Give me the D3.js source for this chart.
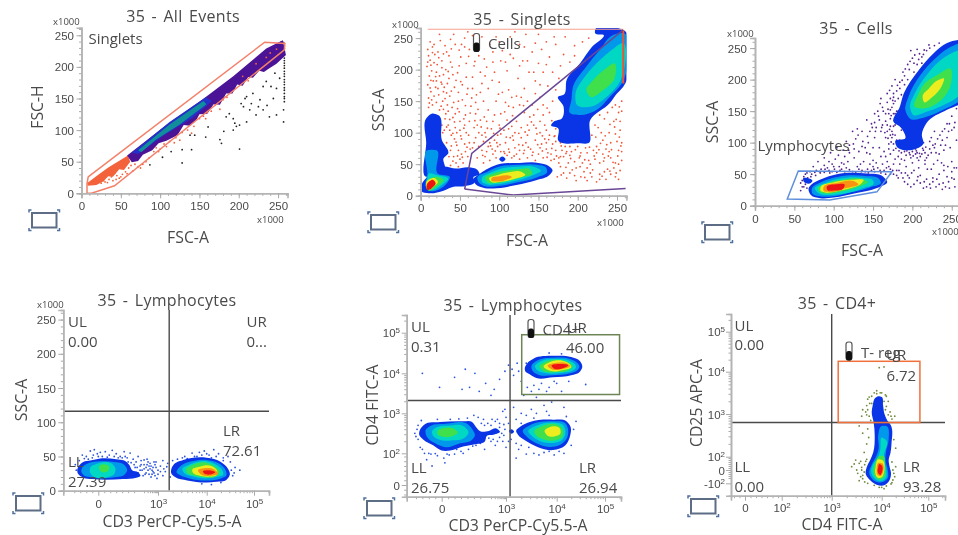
<!DOCTYPE html>
<html>
<head>
<meta charset="utf-8">
<script src="https://cdn.jsdelivr.net/npm/d3@7"></script>
<style>
  html, body { margin: 0; background: #fff; overflow: hidden; }
  svg { display: block; filter: blur(0.5px); font-family: "Open Sans", sans-serif; }
  text { fill: #4a4a4a; }
</style>
</head>
<body>
<div id="chart"></div>
<script>
// axis ticks (log panels are in decades: 3 means 10^3, 0 means 0)
var linearTicks = [0, 50, 100, 150, 200, 250];
var cd3Ticks = [0, 3, 4, 5];
var cd4Ticks = [0, 2, 3, 4, 5];
var cd25Ticks = [-2, 0, 2, 3, 4, 5];

// density levels, blue to red
var densityColors = ["#0a35e6", "#0098ea", "#00d8c4", "#3fe04c", "#ecec1e", "#f89412", "#ee1414"];

// --- panel 1: FSC-A / FSC-H
var singletsGate = [[8.5,26],[233,239],[258.5,237],[258,227],[42,12],[12.7,0],[7,0],[7,15]];
var singletsBands = [
  ["#f4623c", [[7,16],[20,28],[34,41],[46,50],[59,60],[62,50],[54,37],[48,38],[40,26],[34,27],[28,19],[19,13],[8,12]]],
  ["#4b1496", [[58,60],[108,108],[150,145],[193,185],[235,229],[256,242],[260,219],[248,205],[239,198],[232,192],[226,194],[218,183],[212,184],[205,170],[198,172],[192,158],[184,158],[176,140],[168,141],[160,126],[150,125],[146,116],[138,107],[130,108],[122,92],[108,83],[98,79],[90,68],[78,61],[72,51],[64,49]]],
  ["#2430c8", [[64,64],[112,113],[158,152],[166,146],[142,120],[105,92],[72,62]]],
  ["#108e9c", [[72,68],[112,109],[155,146],[159,141],[125,109],[95,85],[76,65]]]
];
var singletsBlack = [[87,45],[103,57],[114,66],[128,69],[128,48],[140,69],[138,92],[144,92],[158,89],[161,105],[176,85],[178,79],[201,70],[184,121],[193,118],[201,108],[210,113],[193,100],[181,98],[197,106],[206,137],[210,153],[218,158],[227,148],[214,132],[222,124],[231,132],[239,121],[248,124],[257,113],[257,132],[231,169],[235,177],[241,169],[248,166],[225,137],[203,142],[208,150],[195,111],[188,126],[216,142],[244,150],[236,139],[252,182],[246,190],
  [258,145],[258,150],[258,153],[258,158],[258,163],[258,167],[258,172],[258,176],[258,180],[258,185],[258,189],[258,193],[258,198],[258,202],[258,206],[258,210],[258,214],[258,219],[258,224],[258,229],[258,233],[258,237],[256,239],[254,239],[252,238]];
var singletsSalmon = [[30,18],[35,22],[40,20],[45,28],[48,24],[52,30],[56,34],[42,32],[38,26],[28,20],[25,16],[60,40],[65,35],[72,42],[78,46],[82,50],[95,72],[100,70],[105,78],[112,82],[120,88],[128,96],[135,100],[150,118],[155,122],[160,128],[165,130],[170,140],[180,148],[185,152],[176,133],[92,66],[118,80],[143,106],[205,185],[222,205],[235,215],[248,228],[240,222],[212,178],[33,17],[44,22],[50,26],[58,31],[63,44],[68,46],[75,40],[86,56],[98,66],[108,74],[125,84],[140,95],[158,118]];

// --- panel 2: FSC-A / SSC-A
var cellsGate = [[56,10.5],[65,67],[258,263]];
var cellsGateLow = [[56,10.5],[118,1],[261,11.6]];
var singletsLimitTop = [[9,264],[258,264]];
var singletsLimitRight = [[258,178],[258,263]];
var singletsDensity = [
  [0, [[222,262],[258,263],[258,173],[250,162],[241,147],[216,120],[213,83],[203,83],[175,88],[175,107],[166,112],[169,117],[180,123],[182,141],[175,157],[182,160],[186,184],[203,210],[218,236],[233,255],[222,258]]],
  [1, [[245,255],[256,258],[256,178],[241,157],[224,136],[203,128],[190,131],[192,152],[194,173],[211,205],[228,231]]],
  [2, [[243,231],[256,242],[255,184],[237,157],[216,141],[199,144],[197,160],[211,192],[228,215]]],
  [3, [[233,199],[247,210],[247,186],[233,168],[216,157],[211,168],[218,181]]],
  [0, [[67,26],[73,33],[84,42],[97,49],[126,52],[150,52],[163,47],[168,40],[164,33],[148,25],[122,17],[97,12],[82,12],[70,18]]],
  [1, [[72,28],[85,38],[97,45],[126,49],[148,49],[160,44],[161,38],[148,29],[122,21],[97,15],[82,15],[74,21]]],
  [2, [[78,28],[88,36],[100,42],[124,46],[146,45],[153,40],[140,31],[118,23],[97,18],[84,18],[78,22]]],
  [3, [[82,28],[92,35],[105,39],[124,42],[140,41],[142,36],[128,29],[110,23],[95,20],[85,21]]],
  [4, [[87,27],[98,33],[112,37],[128,38],[133,34],[118,26],[102,22],[90,22]]],
  [5, [[90,27],[100,31],[112,32],[116,30],[108,25],[96,22.5],[90,24]]],
  [0, [[8.5,125],[14,130],[22,128],[27,88],[35,67],[29,59],[31,44],[7,30],[7,83]]],
  [0, [[28,46],[45,43],[61,45],[72,41],[75,34],[67,29],[69,22],[56,15],[42,14],[29,8],[10,4],[1,7],[2,20],[7,28]]],
  [0, [[100,58],[104,62],[108,58],[104,54]]],
  [1, [[8.5,72],[20,72],[22,35],[37,30],[29,14],[12,8],[7,14],[8.5,35]]],
  [2, [[10,35],[20,33],[35,27],[27,17],[12,9],[7,14],[8.5,27]]],
  [3, [[8,22],[20,30],[29,25],[20,14],[10,8],[7,12]]],
  [4, [[7,21],[18,27.5],[22,22],[16,14],[10,9]]],
  [6, [[8,18],[16,25],[19,20],[14,12],[8.5,9]]]
];
var singletsDots = [[9,232],[12,215],[8,205],[14,198],[11,190],[18,224],[21,208],[16,182],[9,176],[13,165],[19,172],[24,190],[27,214],[31,238],[25,246],[36,222],[40,204],[34,178],[29,165],[37,158],[43,172],[47,195],[51,220],[44,240],[56,250],[62,232],[58,210],[66,188],[60,170],[53,152],[47,138],[41,124],[35,112],[30,104],[44,108],[39,96],[50,118],[57,128],[64,142],[71,160],[78,178],[84,204],[74,222],[88,240],[96,252],[104,230],[92,212],[110,198],[100,180],[118,218],[126,240],[134,256],[142,228],[150,210],[138,196],[124,186],[112,168],[96,150],[86,136],[76,120],[68,108],[58,100],[52,90],[46,80],[38,72],[33,84],[42,62],[50,58],[57,70],[62,84],[70,92],[82,100],[92,118],[102,130],[112,142],[122,158],[132,170],[146,182],[156,196],[164,220],[172,240],[184,252],[196,238],[162,174],[168,150],[152,156],[142,144],[132,132],[122,118],[112,106],[102,98],[94,88],[86,78],[78,72],[72,60],[82,62],[92,66],[102,70],[112,74],[122,66],[132,72],[142,64],[152,76],[162,68],[172,72],[182,62],[192,70],[202,60],[212,68],[222,58],[232,66],[242,60],[252,72],[248,52],[238,42],[228,34],[218,30],[208,38],[198,44],[188,52],[178,46],[174,30],[186,28],[198,24],[212,24],[224,22],[236,26],[248,30],[254,40],[256,56],[250,86],[254,104],[246,118],[240,100],[232,88],[224,78],[218,96],[226,108],[234,122],[252,132],[256,150],[244,140],[168,82],[158,90],[148,98],[138,104],[128,92],[118,88],[108,84],[98,78],[90,92],[80,86],[74,100],[66,76],[60,62],[54,52],[48,46],[38,48],[152,118],[144,128],[136,112],[160,104],[156,128],[170,94],[180,72],[190,78],[200,78],[210,76],[176,60],[166,56],[156,60],[146,56],[136,60],[126,58],[116,60],[106,70],[96,60],[88,56],[80,52],[150,66],[130,80],[120,100],[110,120],[100,112],[90,106],[84,118],[70,130],[62,118],[56,112],[46,100],[28,100],[32,130],[24,136],[20,148],[14,152],[10,140],[28,150],[18,120],[34,144],[42,148],[48,164],[26,180],[20,196],[32,200],[12,244],[24,256],[42,256],[60,260],[78,252],[114,252],[130,214],[146,242],[108,212],[86,170],[80,150],[118,140],[128,156],[104,164],[154,232],[178,206],[168,196],[190,212],[214,250],[72,244],
  [10,222],[15,236],[20,182],[12,171],[23,160],[30,172],[17,158],[26,142],[35,134],[40,140],[31,122],[27,112],[37,104],[43,90],[48,72],[41,55],[36,62],[45,52],[52,66],[56,82],[61,96],[50,104],[55,122],[44,130],[48,150],[39,166],[22,228],[29,192],[36,186],[41,192],[53,176],[58,188],[49,206],[38,212],[33,228],[17,240],[10,155],[15,144],[22,170],[31,154],[63,74],[68,84],[74,78],[79,64],[84,70],[91,74],[97,84],[103,60],[110,64],[114,92],[120,76],[126,72],[134,84],[140,74],[146,88],[154,82],[160,74],[166,66],[172,86],[178,62],[184,78],[190,64],[196,54],[204,68],[214,56],[220,72],[228,52],[234,60],[240,70],[246,44],[252,50],[256,70],[256,84],[248,98],[242,84],[236,74],[230,100],[222,112],[228,128],[238,132],[248,144],[254,118],[256,134],[224,68],[216,50],[206,52],[196,32],[190,36],[182,36],[176,52],[204,30],[216,36],[228,26],[242,34],[252,26],[212,44],[234,38],[170,58],[160,84],[152,100],[144,112],[136,96],[128,108],[116,110],[106,104],[98,96],[88,84],[78,96],[72,112],[94,128],[108,148],[116,156],[126,144],[136,150],[146,162],[156,144],[164,132],[158,112],[172,106],[164,96],[178,84],[186,70],[204,88],[212,86],[70,148],[76,164],[66,170],[82,190],[94,196],[102,214],[114,224],[126,206],[136,214],[144,196],[152,176],[172,168],[176,186],[160,208],[182,224],[170,252],[150,256],[120,260],[92,228],[68,206],[76,196],[56,236],[38,248],[52,240],[66,254],[100,244],[132,236],[160,244],[196,222],[206,244],
  [11,147],[13,183],[17,211],[23,219],[27,177],[33,163],[29,137],[37,121],[33,109],[41,99],[45,85],[39,79],[47,63],[53,61],[59,77],[51,95],[55,107],[43,117],[49,133],[57,143],[63,131],[69,119],[77,109],[83,93],[89,79],[95,71],[101,81],[107,67],[113,69],[119,63],[125,81],[131,67],[137,77],[143,69],[149,81],[155,71],[161,61],[167,75],[173,63],[179,79],[185,67],[191,59],[197,73],[203,63],[209,57],[215,77],[221,63],[227,73],[233,55],[239,63],[245,53],[251,63],[255,79],[253,93],[247,109],[241,113],[235,95],[229,83],[223,93],[237,81],[243,73],[249,121],[253,141],[203,46],[209,29],[219,41],[231,31],[241,39],[249,36],[193,41],[185,45],[179,33],[171,95],[163,89],[155,95],[147,107],[141,117],[133,101],[125,99],[117,95],[109,93],[101,107],[93,99],[85,107],[81,125],[73,137],[65,155],[59,161],[51,181],[45,183],[35,197],[27,203],[19,189],[13,207],[9,212],[15,227],[29,225],[39,233],[49,231],[61,221],[69,213],[81,217],[91,183],[99,161],[107,133],[117,127],[131,143],[139,125],[149,137],[161,139],[167,119],[173,113]];

// --- panel 3: cells
var lymphGate = [[55,55],[174,54],[155,22],[95,9],[41,10.6]];
var cellsDensity = [
  [0, [[244,258],[262,263],[262,162],[244,152],[218,131],[212,112],[214,99],[197,88],[180,94],[178,102],[191,107],[186,123],[176,133],[184,157],[189,178],[208,215],[227,242]]],
  [1, [[246,250],[262,258],[262,168],[239,152],[218,141],[197,138],[191,152],[195,173],[210,207],[227,231]]],
  [2, [[239,234],[262,247],[262,178],[235,157],[218,149],[201,144],[197,157],[203,178],[218,207]]],
  [3, [[231,207],[248,218],[248,189],[231,162],[214,154],[203,157],[208,178],[218,197]]],
  [4, [[231,198],[240,202],[237,189],[225,172],[215,164],[213,174],[221,186]]],
  [0, [[68,27],[72,34],[84,42],[104,50],[142,51],[163,46],[168,38],[155,28],[129,20],[100,13],[83,12],[71,17]]],
  [0, [[61,43],[73,39],[71,36],[62,38]]],
  [1, [[72,26],[85,38],[106,46],[140,47],[158,42],[160,37],[146,29],[125,22],[100,15],[82,15],[73,19]]],
  [2, [[76,27],[89,36],[108,43],[138,44],[150,40],[151,36],[138,28],[117,20],[95,17],[82,19]]],
  [3, [[80,27],[91,35],[112,41],[136,42],[143,38],[129,29],[108,22],[91,19],[82,22]]],
  [4, [[83,28],[100,37],[123,41],[138,40],[134,34],[122,28],[104,23],[89,21],[83,24]]],
  [5, [[87,29],[104,36],[125,39],[131,35],[112,27],[95,21.5],[87,24]]],
  [6, [[91,29],[104,34],[114,33],[112,27],[100,24],[92,25]]]
];
var cellsDots = [[60,30],[58,24],[62,46],[66,52],[72,50],[78,56],[84,58],[92,60],[100,62],[108,56],[116,60],[124,54],[132,58],[140,54],[148,56],[156,60],[164,56],[170,62],[176,50],[182,44],[190,38],[198,30],[206,40],[214,28],[222,34],[230,30],[238,26],[246,38],[254,30],[186,52],[194,48],[202,56],[210,48],[218,42],[226,44],[234,50],[244,46],[250,54],[168,70],[160,78],[150,72],[142,84],[134,66],[126,76],[118,70],[110,68],[102,74],[94,70],[88,64],[112,88],[120,96],[128,106],[136,94],[144,100],[152,108],[158,92],[164,86],[172,82],[178,74],[184,66],[192,62],[200,68],[208,60],[216,66],[224,58],[232,72],[240,64],[250,70],[256,60],[186,84],[192,80],[198,76],[204,82],[210,78],[216,84],[222,90],[176,88],[182,94],[170,98],[166,108],[160,118],[154,124],[148,130],[142,136],[136,118],[168,128],[174,118],[172,138],[166,146],[162,156],[172,152],[168,164],[176,172],[180,182],[174,190],[184,196],[190,206],[196,216],[202,226],[208,232],[214,240],[222,250],[228,254],[234,258],[190,192],[182,170],[176,146],[178,128],[174,108],[170,90],[190,86],[196,84],[206,84],[214,88],[220,80],[226,96],[232,106],[238,118],[244,130],[250,142],[256,154],[236,96],[244,108],[250,120],[254,132],[228,118],[224,108],[230,84],[240,88],[248,92],[256,104],[194,92],[184,104],[178,112],[172,126],[182,138],[176,162],[168,178],[160,170],[152,146],[146,118],[130,122],[124,118],[116,102],[104,92],[96,84],[88,76],[80,70],[74,62],[198,246],[206,248],[212,226],[202,212],[194,200],[186,176],[180,150],[128,44],[150,62],[162,66],[196,44],[240,56],[208,72],[214,100],[222,102],[172,58],[176,66],[180,56],[62,30],[64,34],[66,28],
  [58,36],[60,40],[64,50],[70,54],[76,53],[82,54],[88,53],[94,56],[98,54],[104,53],[110,58],[114,54],[120,57],[128,52],[136,56],[144,52],[152,54],[160,52],[166,50],[172,50],[180,48],[188,44],[194,34],[202,34],[210,36],[218,30],[226,38],[234,34],[242,30],[250,44],[182,78],[186,74],[190,72],[196,90],[200,86],[204,90],[208,94],[212,82],[218,76],[224,84],[228,92],[234,82],[238,104],[242,96],[246,118],[176,98],[180,104],[172,112],[168,118],[176,126],[170,146],[174,156],[178,166],[166,134],[162,128],[158,136],[152,132],[156,150],[150,92],[146,82],[140,92],[132,86],[126,90],[120,84],[114,78],[106,80],[98,66],[130,62],[138,70],[146,66],[154,68],[166,78],[184,186],[178,200],[188,212],[194,224],[200,234],[206,224],[212,236],[218,246],[182,150],[186,120],[196,100],[206,76],[216,72],[178,146],[176,178],[172,170],
  [179,91],[183,87],[187,93],[193,87],[197,81],[201,79],[205,87],[209,83],[213,91],[217,93],[173,101],[169,107],[175,113],[171,121],[177,135],[173,143],[169,153],[175,167],[171,183],[181,191],[187,199],[191,217],[197,229],[203,239],[209,241],[215,247],[221,255],[165,116],[161,124],[157,142],[163,150],[159,162],[153,118],[149,124],[143,110],[137,102],[131,112],[125,98],[119,88],[113,66],[107,62],[101,58],[95,52],[89,58],[83,52],[77,48],[71,46],[67,44],[135,54],[143,58],[151,58],[159,56],[167,60],[175,56],[183,56],[191,52],[199,52],[207,46],[215,38],[223,28],[231,42],[239,36],[247,28],[253,42],[219,58],[227,66],[237,68],[245,62],[253,60],[229,98],[235,112],[241,122],[247,130],[253,124]];

// --- panel 4: CD3 / SSC
var lymphSscQuad = { x: 3.23, y: 116 };
var lymphSscDensity = [
  [0, [[-0.98,36],[-0.75,42],[-0.4,44],[0.1,47],[0.9,46],[1.3,44],[1.55,38],[1.7,30],[2.0,27],[2.12,22],[1.9,19],[1.25,17],[-0.3,17],[-0.75,19],[-1.02,25],[-1.05,31]]],
  [1, [[-0.8,34],[-0.5,40],[0.1,43],[0.8,42],[1.3,38],[1.45,30],[1.3,23],[0.9,20],[-0.3,20],[-0.7,22],[-0.85,28]]],
  [2, [[-0.4,34],[-0.1,39],[0.3,42],[0.65,40],[0.85,33],[0.8,24],[0.5,20],[0.1,18],[-0.2,20],[-0.4,26]]],
  [3, [[0.05,36],[0.3,38.5],[0.55,35],[0.5,29],[0.2,27],[0.05,31]]],
  [0, [[3.28,33],[3.35,40],[3.52,45],[4,48],[4.3,42],[4.45,32],[4.49,24],[4.42,16],[4.2,13],[4,12],[3.6,15],[3.35,20],[3.27,26]]],
  [1, [[3.4,31],[3.5,38],[3.7,43],[4,45],[4.25,40],[4.4,30],[4.42,23],[4.3,18],[4,15],[3.65,18],[3.45,23],[3.38,27]]],
  [2, [[3.5,32],[3.6,37],[3.75,41],[4,43],[4.2,38],[4.33,30],[4.35,24],[4.2,20],[3.95,18],[3.7,21],[3.55,25]]],
  [3, [[3.58,31],[3.72,38],[4,41],[4.18,35],[4.28,27],[4.2,21],[3.9,20],[3.7,23],[3.6,26]]],
  [4, [[3.7,30],[3.85,35],[4.1,36],[4.22,29],[4.22,24],[4.03,20.5],[3.82,22.5],[3.72,26]]],
  [5, [[3.82,29],[4,33],[4.16,31],[4.24,25],[4.05,21.5],[3.88,24]]],
  [6, [[3.92,28],[4.05,30],[4.18,27],[4.07,23.5],[3.95,25]]]
];
var lymphSscDots = [[-0.95,44],[-0.8,52],[-0.6,50],[-0.4,58],[-0.2,60],[-0.05,54],[0.2,50],[0.35,57],[0.55,52],[0.7,59],[0.9,54],[1.1,50],[1.3,57],[1.45,48],[1.6,55],[1.75,46],[1.9,42],[2.0,50],[2.15,44],[2.3,38],[2.45,46],[2.6,40],[2.75,34],[2.9,42],[3.05,36],[3.15,28],[2.2,30],[2.35,24],[2.5,30],[2.65,20],[2.8,26],[2.95,18],[3.1,22],[3.2,40],[2.1,36],[2.4,34],[2.7,30],[2.85,38],[3.0,30],[2.55,36],[2.25,22],[1.85,34],[2.0,26],[-1.1,30],[-1.15,38],[1.2,48],[0.1,56],[-0.3,48],[3.4,46],[3.55,50],[3.7,55],[3.8,50],[3.95,58],[4.05,52],[4.15,60],[4.25,54],[4.35,48],[4.5,42],[4.6,34],[4.7,30],[4.55,22],[3.85,56],[3.6,47],[4.1,48],[3.25,20],[3.3,44],[4.45,50],[3.9,10],[4.1,9],[4.3,12],
  [-0.7,47],[-0.5,46],[-0.25,52],[0,50],[0.45,49],[0.8,50],[1.0,48],[1.35,50],[1.5,42],[1.65,41],[1.8,38],[1.95,34],[2.1,30],[2.3,32],[2.45,38],[2.6,32],[2.75,28],[2.9,34],[3.05,28],[2.4,26],[2.55,24],[2.7,24],[2.85,22],[3.0,24],[3.12,32],[3.18,35],[2.15,38],[2.3,45],[2.5,42],[2.65,36],[2.8,42],[3.1,44],[3.5,48],[3.75,50],[3.9,52],[4.0,54],[4.2,50],[4.35,44],[4.52,30],[4.58,26]];

// --- panel 5: CD3 / CD4
var lymphCd4Quad = { x: 3.08, y: 3.32 };
var cd4Gate = { x0: 3.31, x1: 5.3, y0: 3.47, y1: 4.95 };
var lymphCd4Density = [
  [0, [[3.37,4.12],[3.42,4.25],[3.54,4.36],[3.93,4.43],[4.3,4.4],[4.48,4.3],[4.53,4.17],[4.48,4.04],[4.3,3.95],[3.93,3.9],[3.6,3.88],[3.46,3.98],[3.38,4.05]]],
  [1, [[3.5,4.17],[3.6,4.3],[3.93,4.38],[4.28,4.35],[4.42,4.26],[4.47,4.17],[4.42,4.07],[4.28,4],[3.93,3.95],[3.65,3.96],[3.53,4.05]]],
  [2, [[3.57,4.17],[3.68,4.29],[3.97,4.35],[4.26,4.31],[4.38,4.22],[4.4,4.15],[4.32,4.06],[4.1,4.01],[3.8,4],[3.63,4.06]]],
  [3, [[3.66,4.17],[3.77,4.28],[4.05,4.33],[4.24,4.27],[4.33,4.18],[4.25,4.08],[3.98,4.03],[3.75,4.05]]],
  [4, [[3.74,4.17],[3.87,4.28],[4.12,4.31],[4.27,4.22],[4.3,4.16],[4.14,4.08],[3.87,4.06]]],
  [5, [[3.82,4.18],[4,4.26],[4.2,4.25],[4.28,4.18],[4.14,4.11],[3.9,4.1]]],
  [6, [[3.9,4.18],[4.07,4.23],[4.24,4.2],[4.14,4.13],[3.93,4.13]]],
  [0, [[-1,2.6],[-0.8,2.72],[-0.08,2.78],[1,2.8],[1.4,2.79],[1.6,2.66],[1.8,2.55],[2.2,2.56],[2.55,2.62],[2.72,2.54],[2.45,2.47],[2.1,2.43],[2.02,2.3],[1.5,2.22],[1,2.17],[0.4,2.07],[0,2.07],[-0.4,2.2],[-0.85,2.34],[-1.05,2.47]]],
  [1, [[-0.75,2.58],[-0.5,2.69],[0.1,2.73],[1.2,2.73],[1.45,2.58],[1.55,2.45],[1.4,2.33],[0.8,2.24],[0.2,2.15],[-0.3,2.25],[-0.7,2.42]]],
  [2, [[-0.45,2.55],[-0.2,2.66],[0.3,2.69],[1,2.68],[1.25,2.52],[1.05,2.38],[0.45,2.32],[-0.1,2.34],[-0.42,2.45]]],
  [3, [[-0.2,2.55],[0.1,2.63],[0.5,2.63],[0.75,2.52],[0.45,2.42],[0,2.42],[-0.2,2.48]]],
  [0, [[3.2,2.55],[3.3,2.68],[3.47,2.78],[3.93,2.84],[4.2,2.8],[4.29,2.65],[4.28,2.45],[4.18,2.2],[3.93,2.08],[3.62,2.16],[3.38,2.32],[3.24,2.46]]],
  [1, [[3.33,2.55],[3.5,2.72],[3.93,2.8],[4.18,2.75],[4.24,2.55],[4.2,2.35],[4.05,2.2],[3.85,2.16],[3.6,2.25],[3.42,2.4]]],
  [2, [[3.44,2.55],[3.62,2.7],[3.93,2.77],[4.14,2.7],[4.18,2.5],[4.1,2.32],[3.92,2.26],[3.72,2.28],[3.54,2.4]]],
  [3, [[3.56,2.54],[3.72,2.68],[3.97,2.73],[4.12,2.62],[4.12,2.42],[3.95,2.32],[3.72,2.36],[3.6,2.44]]],
  [4, [[3.76,2.55],[3.9,2.67],[4.06,2.63],[4.08,2.5],[3.95,2.42],[3.82,2.44]]],
  [0, [[3.06,2.56],[3.11,2.6],[3.16,2.54],[3.11,2.49]]]
];
var lymphCd4Dots = [[-0.9,4.0],[-0.1,3.65],[0.6,3.9],[0.95,3.6],[1.1,4.1],[1.3,3.65],[1.55,4.0],[1.75,3.55],[2.05,3.75],[2.3,3.45],[2.45,3.6],[2.7,3.85],[2.95,4.05],[3.05,4.2],[3.15,3.95],[3.22,4.25],[3.3,3.8],[3.42,3.65],[3.55,3.7],[3.7,3.75],[3.85,3.65],[4.1,3.55],[4.25,3.8],[4.6,3.72],[4.1,4.48],[3.85,4.5],[3.6,3.4],[3.9,3.28],[4.15,3.15],[3.75,3.2],[3.5,3.1],[3.3,3.0],[3.2,2.85],[3.0,2.9],[2.85,3.05],[2.7,2.75],[2.5,2.8],[2.3,2.7],[2.15,2.75],[1.95,2.85],[1.7,2.9],[1.5,2.95],[1.2,2.88],[0.8,2.86],[-0.2,2.85],[-1.1,2.7],[-1.25,2.5],[-1.1,2.35],[-1.0,2.15],[-0.8,2.0],[-0.5,1.95],[-0.2,1.85],[0.1,1.7],[0.35,1.9],[0.6,1.95],[0.9,2.05],[1.25,2.1],[1.6,2.2],[2.0,2.1],[2.3,2.3],[2.5,2.2],[2.7,2.4],[2.85,2.3],[3.0,2.15],[3.1,2.35],[3.3,2.2],[3.45,2.15],[3.55,2.0],[3.75,2.02],[3.95,1.9],[4.15,2.0],[4.3,2.2],[4.35,2.6],[4.4,2.8],[4.2,2.92],[3.85,2.95],[3.55,2.88],[3.3,2.75],[-0.7,1.6],[-0.45,1.2],[0.15,1.4],[-0.6,2.0],[3.2,1.7],[3.35,2.5],[2.95,2.6],[2.8,2.5],[0.4,2.85],[1.0,2.0],
  [-1.15,2.6],[-0.95,2.82],[-1.2,2.42],[-0.9,2.1],[-0.3,1.98],[0.25,1.95],[0.7,2.1],[1.45,2.18],[1.8,2.25],[2.2,2.38],[2.4,2.35],[2.6,2.3],[2.9,2.45],[3.05,2.3],[3.2,2.25],[3.25,2.1],[3.4,1.95],[3.65,1.9],[3.85,2.05],[4.05,2.05],[2.9,2.72],[2.7,2.65],[2.6,2.85],[2.35,2.85],[2.0,2.7],[1.85,2.75],[3.05,2.75],[2.95,3.1],[3.15,3.15],[3.4,2.95],[3.6,3.0],[3.8,3.05],[3.35,3.45],[3.5,3.55],[3.65,3.6],[3.8,3.55],[3.95,3.8],[4.0,3.75],[3.4,4.25],[3.25,4.05],[3.12,4.1]];

// --- panel 6: CD4 / CD25
var cd4Cd25Quad = { x: 3, y: 2.8 };
var tregGate = { x0: 3.13, x1: 4.82, y0: 2.8, y1: 4.26 };
var cd4Cd25Density = [
  [0, [[3.87,3.38],[3.93,3.42],[4,3.4],[4.03,3.2],[4.06,3],[4.12,2.85],[4.19,2.75],[4.21,2.3],[4.19,2.1],[4.15,1.5],[4.17,0.5],[4.2,-0.5],[4.17,-1.5],[4.05,-2.3],[3.9,-2.2],[3.78,-1.6],[3.68,-0.6],[3.7,0.4],[3.77,1.5],[3.83,2.1],[3.86,2.5],[3.84,2.8],[3.8,3.05],[3.82,3.2]]],
  [1, [[4,2.72],[4.1,2.72],[4.15,2.4],[4.09,2.1],[4.08,1.5],[4.13,0],[4.13,-1.2],[4,-1.85],[3.85,-1.6],[3.75,-0.5],[3.8,0.8],[3.88,1.9],[3.94,2.2],[3.93,2.5]]],
  [2, [[4.01,2.45],[4.1,2.38],[4.05,2.05],[4.04,1.6],[4.1,0],[4.09,-1.2],[3.97,-1.7],[3.85,-1.2],[3.79,-0.3],[3.83,0.9],[3.92,1.8],[3.97,2.15]]],
  [3, [[3.93,2],[4.03,2.02],[4.07,0.5],[4.06,-1],[3.95,-1.45],[3.85,-0.7],[3.84,0.4],[3.88,1.2]]],
  [4, [[3.93,1.6],[4.01,1.5],[4.05,-0.3],[4,-1.1],[3.92,-1.15],[3.87,-0.4],[3.88,0.5]]],
  [5, [[3.94,1.1],[4.01,1],[4.03,-0.3],[3.98,-0.9],[3.92,-0.8],[3.9,0]]],
  [6, [[3.95,0.9],[4,0.7],[4.01,-0.25],[3.97,-0.75],[3.92,-0.3],[3.93,0.4]]]
];
var cd4Cd25Dots = [[3.95,4.1],[4.05,4.12],[3.8,3.42],[3.9,3.48],[4.0,3.5],[4.1,3.42],[3.72,3.35],[4.14,3.3],[3.7,3.2],[4.1,3.18],[3.62,3.1],[4.18,3.05],[3.6,2.95],[4.28,2.95],[3.7,2.98],[4.22,2.88],[3.55,2.72],[3.62,2.55],[3.7,2.3],[3.65,2.1],[3.48,1.5],[3.55,1.0],[3.4,0.5],[3.5,0],[3.6,0.4],[3.65,-0.3],[3.58,-1],[3.55,-1.6],[3.72,-2.0],[3.7,1.6],[4.3,0.5],[4.26,-0.5],[4.24,-1.5],[4.1,-2.4],[4.2,-2.1],[3.85,-2.3],[3.95,-2.6],[4.05,-2.8],[4.22,1.2],[4.26,2.4],[3.66,0.8],[3.62,-0.8],[3.8,3.25],[4.05,3.3],[3.9,3.55],[3.78,2.85],[4.3,2.2],[3.68,1.3],
  [3.75,3.4],[3.76,3.25],[3.72,3.1],[3.75,2.95],[4.08,3.1],[4.14,2.98],[4.2,2.95],[3.68,3.05],[3.85,3.5],[3.97,3.5],[4.08,3.45],[3.72,2.65],[3.74,2.45],[3.6,0],[3.52,-0.5],[3.45,0.9],[3.58,1.3],[3.62,-1.3],[3.66,-1.8],[4.24,0],[4.28,-1],[4.22,-1.9],[4.0,-2.6]];

var panels = [
  { title: "35 - All Events", tx: 183, ty: 22, xLabel: "FSC-A", xlx: 188, xly: 243, yLabel: "FSC-H", ylx: 43, yly: 107,
    x: [[0,262],[81.5,287.5]], y: [[0,262],[193.3,27.7]],
    tickY: 210, tickR: 74, bottomK: [257,223], topK: [53,25], icon: [32,213] },
  { title: "35 - Singlets", tx: 522, ty: 25, xLabel: "FSC-A", xlx: 527, xly: 246, yLabel: "SSC-A", ylx: 384, yly: 110,
    x: [[0,262],[420.7,626.4]], y: [[0,266],[195.7,28]],
    tickY: 212, tickR: 413, bottomK: [597,226], topK: [392,28], icon: [371,215] },
  { title: "35 - Cells", tx: 856, ty: 34, xLabel: "FSC-A", xlx: 862, xly: 256, yLabel: "SSC-A", ylx: 718, yly: 122,
    x: [[0,262],[755,961.2]], y: [[0,266],[205.7,38]],
    tickY: 223, tickR: 747, bottomK: [932,235], topK: [727,37], icon: [705,225] },
  { title: "35 - Lymphocytes", tx: 167, ty: 306, xLabel: "CD3 PerCP-Cy5.5-A", xlx: 172, xly: 527, yLabel: "SSC-A", ylx: 27, yly: 400,
    x: [[-1.75,0,3,4,5,5.31],[63.3,98.3,158,206.7,254,269]], y: [[0,264],[490.7,310]],
    tickY: 508, tickR: 56, topK: [37,308], icon: [16,496], xTicks: cd3Ticks },
  { title: "35 - Lymphocytes", tx: 513, ty: 311, xLabel: "CD3 PerCP-Cy5.5-A", xlx: 518, xly: 531, yLabel: "CD4 FITC-A", ylx: 378, yly: 405,
    x: [[-1.63,0,3,4,5,5.33],[406.7,441.7,506,556.7,605,621]], y: [[-0.74,0,2,3,4,5,5.44],[496.7,485,453.3,413.3,373.3,332.7,315]],
    tickY: 513, tickR: 400, icon: [367,501], xTicks: cd3Ticks, yTicks: cd4Ticks },
  { title: "35 - CD4+", tx: 837, ty: 309, xLabel: "CD4 FITC-A", xlx: 842, xly: 530, yLabel: "CD25 APC-A", ylx: 702, yly: 403,
    x: [[-0.76,0,2,3,4,5,5.36],[731,745,781.7,831.7,881.7,928.3,945]], y: [[-3.85,-2,0,2,3,4,5,5.45],[495.7,483.3,470,456.7,414,371.7,331.7,314]],
    tickY: 512, tickR: 725, icon: [691,499], xTicks: cd4Ticks, yTicks: cd25Ticks }
];

var svg = d3.select("#chart").append("svg").attr("width", 958).attr("height", 535);

// builds scales and clip of one panel
function drawFrame(p, i) {
  p.sx = d3.scaleLinear().domain(p.x[0]).range(p.x[1]);
  p.sy = d3.scaleLinear().domain(p.y[0]).range(p.y[1]);
  p.g = svg.append("g");
  var clipId = "clip" + i;
  svg.append("clipPath").attr("id", clipId).append("rect")
    .attr("x", p.x[1][0]).attr("y", d3.min(p.y[1]))
    .attr("width", p.x[1][p.x[1].length - 1] - p.x[1][0])
    .attr("height", d3.max(p.y[1]) - d3.min(p.y[1]));
  p.plot = p.g.append("g").attr("clip-path", "url(#" + clipId + ")");
}

function decadeLabel(sel, d) {
  sel.text("");
  if (d === 0) { sel.text("0"); return; }
  sel.append("tspan").text(d < 0 ? "-10" : "10");
  sel.append("tspan").attr("dy", -4).style("font-size", "8px").text(Math.abs(d));
}

function minorDecades(scale) {
  var out = [];
  var dom = scale.domain();
  for (var d = 2; d < 6; d++) {
    [2, 3, 4, 5, 6, 7, 8, 9].forEach(function(k) {
      var v = d + Math.log10(k);
      if (v < dom[dom.length - 1]) out.push(v);
    });
  }
  [-1.2, -0.9, -0.6, -0.3, 0.3, 0.6, 0.9, 1.2, 1.5, 1.8].forEach(function(v) { if (v > dom[0]) out.push(v); });
  return out;
}

function drawAxes(p) {
  var axisY = p.y[1][0];
  var axisX = p.x[1][0];
  var xMajor = p.xTicks || linearTicks;
  var yMajor = p.yTicks || linearTicks;
  var xMinor = p.xTicks ? minorDecades(p.sx) : d3.range(0, 261, 10);
  var yMinor = p.yTicks ? minorDecades(p.sy) : d3.range(0, 261, 10);

  var gx = p.g.append("g").attr("transform", "translate(0," + axisY + ")");
  gx.append("g").call(d3.axisBottom(p.sx).tickValues(xMinor).tickSize(2.5).tickFormat(""));
  gx.append("g").attr("class", "major").call(d3.axisBottom(p.sx).tickValues(xMajor).tickSize(5));

  var gy = p.g.append("g").attr("transform", "translate(" + axisX + ",0)");
  gy.append("g").call(d3.axisLeft(p.sy).tickValues(yMinor).tickSize(2.5).tickFormat(""));
  gy.append("g").attr("class", "major").call(d3.axisLeft(p.sy).tickValues(yMajor).tickSize(5));

  p.g.selectAll(".domain").attr("stroke", "#b4b4b4").attr("stroke-width", 1.6);
  p.g.selectAll(".tick line").attr("stroke", "#aaa");

  gx.select(".major").selectAll("text")
    .attr("y", 0).attr("dy", 0)
    .attr("transform", "translate(0," + (p.tickY - axisY) + ")")
    .style("font-size", "11.5px").style("font-family", "inherit")
    .each(function(d) { if (p.xTicks) decadeLabel(d3.select(this), d); });
  gy.select(".major").selectAll("text")
    .attr("x", 0).attr("dy", "0.35em")
    .attr("transform", "translate(" + (p.tickR - axisX) + ",0)")
    .style("font-size", "11.5px").style("font-family", "inherit")
    .each(function(d) { if (p.yTicks) decadeLabel(d3.select(this), d); });

  p.g.append("text").attr("x", p.tx).attr("y", p.ty).attr("text-anchor", "middle")
    .style("font-size", "16px").style("letter-spacing", "0.3px").style("word-spacing", "2px").text(p.title);
  p.g.append("text").attr("x", p.xlx).attr("y", p.xly).attr("text-anchor", "middle")
    .style("font-size", "15.8px").text(p.xLabel);
  p.g.append("text").attr("text-anchor", "middle")
    .attr("transform", "translate(" + p.ylx + "," + p.yly + ") rotate(-90)")
    .style("font-size", "15.8px").text(p.yLabel);
  if (p.topK) p.g.append("text").attr("x", p.topK[0]).attr("y", p.topK[1]).style("font-size", "9.5px").text("x1000");
  if (p.bottomK) p.g.append("text").attr("x", p.bottomK[0]).attr("y", p.bottomK[1]).style("font-size", "9.5px").text("x1000");
}

function drawDots(p, pts, color, r) {
  p.plot.append("g").selectAll("circle").data(pts).join("circle")
    .attr("cx", function(d) { return p.sx(d[0]); })
    .attr("cy", function(d) { return p.sy(d[1]); })
    .attr("r", r || 0.9)
    .attr("fill", color);
}

function drawDensity(p, levels) {
  var line = d3.line().x(function(d) { return p.sx(d[0]); }).y(function(d) { return p.sy(d[1]); })
    .curve(d3.curveCatmullRomClosed.alpha(1));
  p.plot.append("g").selectAll("path").data(levels).join("path")
    .attr("d", function(d) { return line(d[1]); })
    .attr("fill", function(d) { return densityColors[d[0]]; });
}

function drawLine(p, pts, color, closed, width) {
  var line = d3.line().x(function(d) { return p.sx(d[0]); }).y(function(d) { return p.sy(d[1]); })
    .curve(closed ? d3.curveLinearClosed : d3.curveLinear);
  p.g.append("path").attr("d", line(pts)).attr("fill", "none")
    .attr("stroke", color).attr("stroke-width", width || 1.5);
}

function drawQuad(p, q) {
  var xr = p.sx.range(), yr = p.sy.range();
  p.g.append("line").attr("x1", p.sx(q.x)).attr("x2", p.sx(q.x))
    .attr("y1", yr[0]).attr("y2", yr[yr.length - 1]).attr("stroke", "#4a4a4a").attr("stroke-width", 1.4);
  p.g.append("line").attr("y1", p.sy(q.y)).attr("y2", p.sy(q.y))
    .attr("x1", xr[0]).attr("x2", xr[xr.length - 1]).attr("stroke", "#4a4a4a").attr("stroke-width", 1.4);
}

function drawBox(p, b, color) {
  p.g.append("rect").attr("x", p.sx(b.x0)).attr("y", p.sy(b.y1))
    .attr("width", p.sx(b.x1) - p.sx(b.x0)).attr("height", p.sy(b.y0) - p.sy(b.y1))
    .attr("fill", "none").attr("stroke", color).attr("stroke-width", 1.5);
}

function label(p, txt, lx, ly, size) {
  p.g.append("text").attr("x", lx).attr("y", ly).style("font-size", (size || 15) + "px").text(txt);
}

// the little test tube next to a gate name
function tube(g, tx, ty) {
  g.append("rect").attr("x", tx).attr("y", ty).attr("width", 6).attr("height", 18).attr("rx", 2.5)
    .attr("fill", "#fff").attr("stroke", "#555").attr("stroke-width", 1.2);
  g.append("rect").attr("x", tx).attr("y", ty + 9).attr("width", 6).attr("height", 9.5).attr("rx", 2.5)
    .attr("fill", "#111");
}

// the small selection frame under every plot
function frameIcon(g, at) {
  var ix = at[0], iy = at[1];
  g.append("rect").attr("x", ix).attr("y", iy).attr("width", 24.5).attr("height", 14.5)
    .attr("fill", "#fff").attr("stroke", "#5d6d86").attr("stroke-width", 2);
  [[-3, -3, 1, 1], [27.5, -3, -1, 1], [-3, 17.5, 1, -1], [27.5, 17.5, -1, -1]].forEach(function(c) {
    g.append("path").attr("fill", "none").attr("stroke", "#4f6f9f").attr("stroke-width", 1.5)
      .attr("d", "M" + (ix + c[0]) + "," + (iy + c[1] + 2.5 * c[3]) + "v" + (-2.5 * c[3]) + "h" + (2.5 * c[2]));
  });
}

panels.forEach(drawFrame);

// panel 1
var p = panels[0];
drawDots(p, singletsBlack, "#222");
singletsBands.forEach(function(b) {
  p.plot.append("path").attr("fill", b[0])
    .attr("d", d3.line().x(function(d) { return p.sx(d[0]); }).y(function(d) { return p.sy(d[1]); }).curve(d3.curveLinearClosed)(b[1]));
});
drawDots(p, singletsSalmon, "#f4623c");
drawLine(p, singletsGate, "#f4806a", true);
label(p, "Singlets", 88.5, 44);

// panel 2
p = panels[1];
drawDots(p, singletsDots, "#f2573a");
drawDensity(p, singletsDensity);
drawLine(p, singletsLimitTop, "#f8a090", false, 1.2);
drawLine(p, singletsLimitRight, "#f4502e", false, 2);
drawLine(p, cellsGate, "#6a4796");
drawLine(p, cellsGateLow, "#6a4796");
tube(p.g, 473.5, 33.5);
label(p, "Cells", 488, 49);

// panel 3
p = panels[2];
drawDots(p, cellsDots, "#55248f");
drawDensity(p, cellsDensity);
drawLine(p, lymphGate, "#5f8fdc", true);
label(p, "Lymphocytes", 757.5, 151);

// panel 4
p = panels[3];
drawDots(p, lymphSscDots, "#2d55e0");
drawDensity(p, lymphSscDensity);
drawQuad(p, lymphSscQuad);
label(p, "UL", 68, 327); label(p, "0.00", 68, 347);
label(p, "UR", 246.5, 327); label(p, "0...", 246.5, 347);
label(p, "LL", 68, 467); label(p, "27.39", 68, 487);
label(p, "LR", 223, 436); label(p, "72.61", 223, 456);

// panel 5
p = panels[4];
drawDots(p, lymphCd4Dots, "#2d55e0");
drawDensity(p, lymphCd4Density);
drawQuad(p, lymphCd4Quad);
drawBox(p, cd4Gate, "#6d8454");
tube(p.g, 528, 319.5);
label(p, "CD4+", 542.5, 335);
label(p, "UR", 566.5, 333); label(p, "46.00", 566, 353);
label(p, "UL", 411, 332); label(p, "0.31", 411, 352);
label(p, "LL", 411, 473); label(p, "26.75", 411, 493);
label(p, "LR", 579, 473); label(p, "26.94", 579, 493);

// panel 6
p = panels[5];
drawDots(p, cd4Cd25Dots, "#6f8a3c");
drawDensity(p, cd4Cd25Density);
drawQuad(p, cd4Cd25Quad);
drawBox(p, tregGate, "#f0703c");
tube(p.g, 846, 342);
label(p, "T- reg", 861, 358);
label(p, "UR", 886, 360); label(p, "6.72", 886.5, 381);
label(p, "UL", 734.5, 331); label(p, "0.00", 734.5, 350);
label(p, "LL", 734.5, 472); label(p, "0.00", 734.5, 492);
label(p, "LR", 903, 472); label(p, "93.28", 903, 492);

panels.forEach(function(pn) {
  drawAxes(pn);
  frameIcon(pn.g, pn.icon);
});
</script>
</body>
</html>
